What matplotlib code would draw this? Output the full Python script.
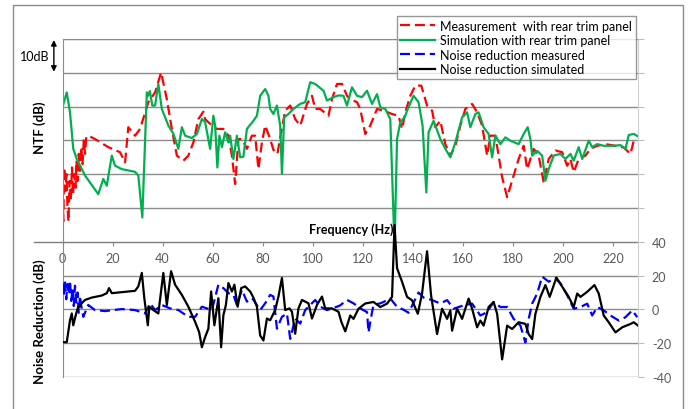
import matplotlib
matplotlib.use("Agg")
from matplotlib import pyplot as plt
from matplotlib.lines import Line2D
from matplotlib.ticker import FuncFormatter, MultipleLocator
import numpy as np

plt.rcParams['font.family'] = ['Lato', 'DejaVu Sans']

# (frequency Hz, NTF dB) - measured with rear trim panel
ntf_measured = [
    (0, 60), (0.3, 46), (0.7, 62), (1.2, 55), (1.6, 60), (2.0, 50), (2.4, 46), (2.8, 58),
    (3.3, 52), (3.8, 62), (4.2, 54), (4.7, 60), (5.2, 56), (5.6, 64), (6.0, 58), (6.5, 66),
    (7.0, 61), (7.5, 68), (8.0, 63), (8.5, 70), (9.0, 66), (9.5, 71), (10.3, 71.4), (13, 70.4),
    (18.3, 68), (23, 66.5), (25, 63.5), (26.3, 73.9), (29, 71.4), (31, 73.4), (34.3, 81.3),
    (37, 84.2), (39.4, 90.1), (41.7, 82.2), (43.7, 73.4), (45.7, 65.5), (48.3, 64), (50.3, 65.5),
    (52.3, 69.4), (54.3, 76.3), (56.3, 78.5), (57, 76.3), (59.7, 74.4), (61.7, 73.4), (64.3, 73.4),
    (66.3, 71.4), (67.7, 65.5), (69, 57.1), (70.3, 70.4), (71.7, 70.4), (73.7, 67.5), (75.7, 71.4),
    (77, 71.4), (78.3, 61.5), (79.7, 69.4), (81, 74.4), (83, 70.4), (84.3, 67.2), (85.9, 66),
    (87, 70.9), (89, 78.8), (91, 80.3), (93, 76.3), (95, 74.4), (97.7, 80.8), (99.7, 83.2),
    (101, 79.3), (103, 79.3), (106.3, 77.3), (107.7, 82.2), (109.7, 86.7), (111.7, 86.7),
    (113.7, 83.2), (115, 82.2), (117.7, 81.3), (119, 79.3), (121, 71.9), (123, 74.4), (125.7, 79.3),
    (128.3, 78.8), (131.7, 77.8), (134.3, 77.3), (135.7, 73.4), (137, 78.3), (139, 83.2),
    (141, 86.2), (143.4, 86.2), (145.7, 80.3), (147.7, 78.8), (149, 73.9), (151, 75.8), (153, 68.9),
    (155, 65.5), (157, 68.4), (159, 74.4), (161, 79.3), (163.7, 80.8), (165.7, 78.3), (167.7, 74.4),
    (169.7, 65.5), (171, 71.4), (173, 71.4), (174.3, 65.5), (175.7, 59.1), (177.7, 53.2),
    (180.3, 59.6), (182.3, 64.5), (184.3, 68.4), (185.7, 61.5), (187, 64.5), (188.3, 67.5),
    (190.3, 65.5), (192.3, 57.6), (194.3, 64.5), (197, 67), (199.7, 66.5), (201.7, 62.5),
    (203, 64.5), (204.3, 60.6), (206.3, 64.5), (209, 65.5), (211, 67.5), (213.7, 68.4), (217, 68.9),
    (221, 68.4), (224.3, 67.9), (227, 66), (228.3, 69.9),
]

# (frequency Hz, NTF dB) - simulation with rear trim panel
ntf_simulated = [
    (0.3, 80.6), (1.7, 84.2), (3, 78.3), (4.3, 67.5), (5.7, 64.5), (9, 59.6), (14.3, 54.1),
    (16.3, 58.6), (17.7, 56.6), (19.7, 65.5), (21, 62.5), (23.7, 61.5), (29, 60.7), (30.3, 59.6),
    (31.9, 47.2), (33.7, 84.2), (34.2, 83.2), (34.9, 84.6), (35.9, 80.3), (37, 80.3), (38.3, 86.7),
    (39.7, 79.3), (42.3, 74.4), (44.3, 72), (46.3, 67.5), (47.7, 73.9), (49, 71.4), (51.7, 70.7),
    (53.7, 71.9), (55.7, 76.3), (57, 75.4), (59, 67.5), (60.3, 77.3), (61, 74.4), (61.9, 62),
    (62.7, 71.4), (63.7, 68), (65, 72.4), (66.3, 69.4), (67, 71.4), (68.3, 64.5), (69.7, 71.4),
    (71, 65), (72.3, 65.2), (73.7, 73.4), (76.3, 75.8), (77.7, 77.3), (79, 83.2), (81, 85.2),
    (82.3, 83.2), (83, 79.3), (84.3, 77.8), (85.7, 80.3), (87, 74.4), (87.7, 60.1), (88.6, 76.8),
    (90.3, 77.8), (92.3, 79.3), (95, 80.8), (97, 81.3), (99, 87.2), (101, 86.7), (104.3, 84.7),
    (105.7, 81.8), (108.3, 82.8), (110.3, 83.3), (112.3, 83.2), (113.7, 80.3), (115.7, 85.7),
    (117.7, 83.2), (119.7, 82.8), (121.7, 84.7), (123.7, 80.8), (125.7, 83.7), (127, 79.8),
    (129, 79.3), (131, 76.3), (132.7, 38.5), (133.7, 70.4), (135, 75.4), (136.7, 76.8), (138, 79.3),
    (140.3, 83.2), (142.3, 81.3), (143.9, 74.4), (145.4, 54.6), (146.3, 72.4), (148.3, 75.8),
    (151, 70.4), (153, 67.5), (155, 65), (157, 69.4), (159.7, 76.8), (161.7, 78.3), (163, 73.9),
    (165, 77.8), (166.3, 78.3), (168.3, 73.9), (170.3, 71.9), (171.7, 65), (173, 71.4), (175, 68.9),
    (177, 70.9), (179, 69.9), (182.3, 68.9), (184.3, 71.9), (185.9, 73.9), (187, 70.4), (187.7, 65.5),
    (189.7, 66.9), (191.7, 65.5), (193, 58.1), (194.3, 61.5), (196.3, 65.5), (199, 66), (201, 64.5),
    (203, 66), (204.3, 64), (206.3, 68), (207.7, 64.5), (210.3, 69.9), (211.7, 68), (213.7, 68.9),
    (216.3, 68.4), (220.3, 68.4), (223, 68.6), (225, 67.5), (226.3, 71.6), (228.3, 71.9), (230, 71.2),
]

# (frequency Hz, noise reduction dB) - measured
nr_measured = [
    (0, 16), (0.5, 8), (1, 17), (1.5, 6), (2, 15), (2.5, 9), (3, 17), (3.5, 5), (4, 12), (4.5, 2),
    (5, 14), (5.5, 4), (6, 10), (6.5, -2), (7, 8), (7.5, 2), (8.3, -4.4), (10.3, 2.6), (13, -0.4),
    (17, -1), (23.7, 0.2), (29, -0.4), (33, -2.4), (35, 3.6), (37, -0.4), (39.7, 2.6), (43, 0.6),
    (46.3, -0.4), (50.3, -4.4), (53, -4.4), (55.7, 1.6), (59.7, -0.4), (62.3, 14.6), (64.3, 12.6),
    (66.3, 9.6), (68.3, 8.6), (69.7, 2.6), (71.7, 11.6), (73.7, 4.6), (75.7, 6.6), (76.3, 5.6),
    (79, -0.4), (81, 3.6), (83, 8.6), (84.3, 7.6), (85.7, -11.4), (87.7, -4.4), (89.7, -2.4),
    (91, -17.4), (93, -5.4), (95, -8.4), (97, -0.4), (99, 2.6), (101, 5.6), (103, 1.6),
    (105.7, -0.4), (109.7, 1.6), (111, 2.4), (113.7, 5.6), (116.3, 3.6), (119, 0.6), (121.7, -1.6),
    (122.3, -13.6), (123.7, -1.6), (124.3, 2.6), (127, 3.6), (128.3, 4.4), (131, 6.5), (133.7, 1.5),
    (136.3, -0.2), (138.3, -2), (140.3, 4), (142.3, 10), (144.3, 7), (147.7, 5.5), (151, 3.5),
    (153.7, 5.5), (156.3, 0.4), (160.3, 2.4), (163.7, 3.4), (167, -3.6), (169.7, -1.6), (172.3, 4.4),
    (175, 1.4), (177.7, 1.4), (180.3, -5.6), (183, -9.6), (185, -19.6), (186.3, -5.6), (187.7, 3.4),
    (189.7, 9.4), (191.7, 19.4), (194.3, 16.4), (197, 18.4), (199, 15.4), (201.7, 8.4), (204.3, 0.4),
    (207, 1.4), (209.7, 3.4), (211.7, -3.6), (213.7, 1.4), (216.3, -0.6), (219, -3.6), (222.3, -6.6),
    (225, -4.6), (227.7, -0.6), (229.7, -4.6),
]

# (frequency Hz, noise reduction dB) - simulated
nr_simulated = [
    (0.3, -19.4), (1.7, -19.4), (3, -6.4), (3.7, -2.4), (4.3, -9.4), (5.3, -3.4), (6.3, 1.6),
    (9, 5.6), (11.7, 7), (15.7, 8.2), (17.7, 9.6), (18.6, 12.6), (19.7, 9.6), (23.7, 10.2), (29, 11),
    (30.3, 13.6), (31.7, 21.6), (32.7, 6.6), (34.1, -9.4), (34.7, 1.6), (36.3, -0.4), (38.3, -2.4),
    (40.3, 21.6), (41.7, 2.6), (43.4, 22.6), (45, 14.6), (47.7, 8.6), (50.3, 1.6), (53, -7.4),
    (54.6, -13.4), (55.7, -22.4), (57, -16.4), (58.3, -11.4), (59.4, 10.6), (60.7, -9.4), (62.3, 6.6),
    (63.4, -22.4), (64.3, -3.4), (65.3, 2.6), (66.3, 15.6), (67.7, 10.6), (68.7, 14.6), (70, 1.6),
    (71.4, 12.6), (73, 13.6), (75, 10.6), (76.3, 7), (77.7, 1.6), (79, -15.4), (80.3, -18.4),
    (81.7, -5.4), (83, -6.4), (85, -0.4), (86.3, 7.6), (87.7, 18.6), (89, -0.4), (90.7, 0.6),
    (91.7, -1.4), (93, -14.4), (94.3, 0.6), (95.7, 5.6), (98.3, 3.6), (99.7, -5.4), (101.7, 2.6),
    (103.7, 7.6), (105, 0.6), (107.7, 0.6), (110.3, -1.4), (111.5, -7.6), (113, -13), (115, -3.6),
    (116.3, -5.6), (118.3, 0.4), (121, 3.5), (124.3, 4.4), (127, 1.4), (129.7, 3.4), (131.7, 7.4),
    (132.7, 50), (133.7, 24.4), (135.7, 16.4), (137.7, 7.4), (139.7, 5.4), (142, -2.6), (143.7, 9.4),
    (145.7, 34.4), (147.3, 8.4), (149.7, -14.6), (151.7, 0.4), (153.7, -5.6), (155, -0.6),
    (155.7, -12.6), (157.7, 0.4), (159.7, -5.6), (162.3, 6.4), (163.7, 0.4), (165.7, -10.6),
    (167, -6.6), (168.3, -9.6), (170.3, 1.4), (172.3, 4.4), (173.7, -2.6), (175.7, -29.6),
    (177.7, -9.6), (179.7, -11.6), (182.3, -7.6), (185, -8.6), (186.3, -14.6), (187.7, -17.6),
    (189, -2.6), (191, 7.4), (193, 14.4), (194.7, 7.4), (197.4, 18.8), (199.7, 13.4), (202.3, 7.4),
    (204.3, 1.4), (205.7, 9.4), (207, 7.4), (209.7, 10.4), (212.6, 14.4), (214.3, 9.4), (216.3, -3.6),
    (218.3, -7.6), (221, -13.6), (223.7, -10.6), (227, -8.6), (228.3, -7.6), (230, -9.6),
]

freq_ticks = list(range(0, 221, 20))
nr_ticks = list(range(-40, 161, 20))

W, H = 688, 410
fig = plt.figure(figsize=(W / 100, H / 100), dpi=100)

# plot area in pixels: x 62.5..638, y 40..378
ax = fig.add_axes([62.5 / W, 1 - 378 / H, (638 - 62.5) / W, (378 - 40) / H])
ax2 = ax.twinx()

grid_c = '#8c8c8c'
ax.set_xlim(0, 230)
ax.set_ylim(0, 100)
ax2.set_ylim(-40, 160)

ax.yaxis.set_major_locator(MultipleLocator(10))
ax.grid(axis='y', color=grid_c, lw=1.0)
ax.tick_params(axis='y', left=False, labelleft=False)

# x axis crosses at NR = 40 (NTF 40)
ax.spines['bottom'].set_position(('data', 40))
ax.spines['bottom'].set_color('#7f7f7f')
ax.spines['left'].set_color('#8c8c8c')
ax.spines['top'].set_color('#8c8c8c')
ax.spines['right'].set_visible(False)
ax.set_xticks(freq_ticks)
ax.tick_params(axis='x', direction='out', length=3, color='#8c8c8c',
               labelsize=9, labelcolor='#595959', pad=4)

for s in ['left', 'top', 'bottom']:
    ax2.spines[s].set_visible(False)
ax2.spines['right'].set_color('#d0d0d0')
ax2.set_yticks(nr_ticks)
ax2.yaxis.set_major_formatter(FuncFormatter(lambda v, p: f'{v:.0f}' if v <= 40 else ''))
ax2.tick_params(axis='y', direction='out', length=4, color='#bfbfbf',
                labelsize=9, labelcolor='#595959', pad=6)

dash = (4.5, 2.2)
f, v = zip(*ntf_measured)
l1, = ax.plot(f, v, color='#ff0000', lw=1.6, dashes=dash, label='Measurement  with rear trim panel')
f, v = zip(*ntf_simulated)
l2, = ax.plot(f, v, color='#00b050', lw=1.6, label='Simulation with rear trim panel')
f, v = zip(*nr_measured)
l3, = ax2.plot(f, v, color='#0000ff', lw=1.6, dashes=dash, label='Noise reduction measured')
f, v = zip(*nr_simulated)
l4, = ax2.plot(f, v, color='black', lw=1.6, label='Noise reduction simulated')

leg = fig.legend(handles=[l1, l2, l3, l4], loc='upper right',
                 bbox_to_anchor=(636 / W, 1 - 17 / H), bbox_transform=fig.transFigure,
                 fontsize=9, frameon=True, fancybox=False, borderaxespad=0,
                 handlelength=2.8, handletextpad=0.4, labelspacing=0.2, borderpad=0.3)
leg.get_frame().set_edgecolor('#7f7f7f')
leg.get_frame().set_linewidth(1.0)

# axis titles and annotations
yt = ax.get_yaxis_transform()
ax.text(-0.039, 74, 'NTF (dB)', transform=yt, rotation=90, ha='center', va='center',
        fontsize=9.5, fontweight='bold')
ax.text(-0.039, 16.6, 'Noise Reduction (dB)', transform=yt, rotation=90, ha='center',
        va='center', fontsize=9.5, fontweight='bold')
ax.text(115.4, 43.8, 'Frequency (Hz)', ha='center', va='center', fontsize=9, fontweight='bold')
ax.text(-0.048, 95, '10dB', transform=yt, ha='center', va='center', fontsize=9)
ax.annotate('', xy=(-0.015, 90.3), xytext=(-0.015, 99.7), xycoords=yt, textcoords=yt,
            arrowprops=dict(arrowstyle='<|-|>', color='black', lw=1.0,
                            mutation_scale=8, shrinkA=0, shrinkB=0), annotation_clip=False)

# axis line continues to the left of the plot area
fig.add_artist(Line2D([34 / W, 62.5 / W], [1 - 243 / H] * 2, color='#7f7f7f', lw=1.0))

# outer chart border
fig.add_artist(Line2D([13 / W, 13 / W, 683 / W, 683 / W], [0, 1 - 6 / H, 1 - 6 / H, 0],
                      color='#8c8c8c', lw=1.0))

fig.savefig('out.png', dpi=100)
